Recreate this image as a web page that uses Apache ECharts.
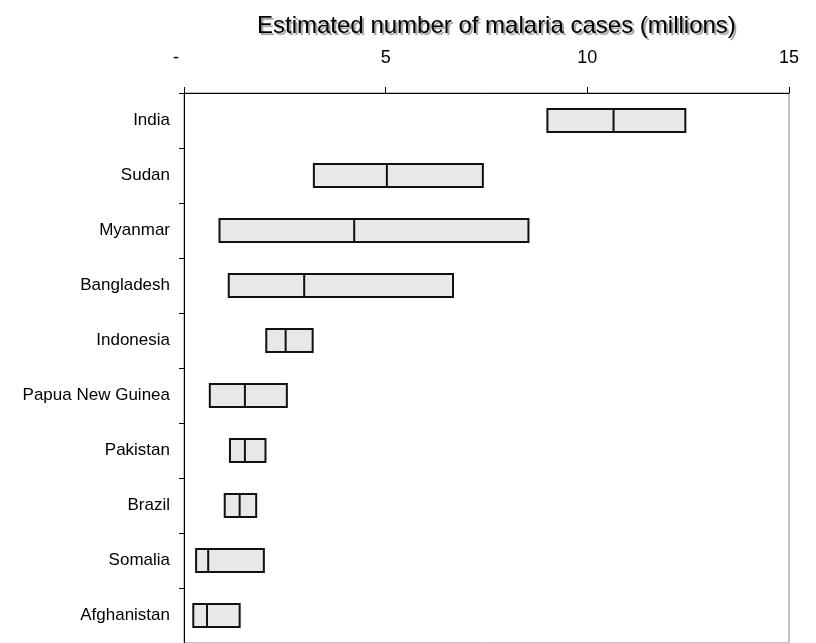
<!DOCTYPE html>
<html>
<head>
<meta charset="utf-8">
<style>
  html, body { margin: 0; padding: 0; background: #ffffff; }
  #chart { width: 816px; height: 643px; }
</style>
<script src="https://cdn.jsdelivr.net/npm/echarts@6/dist/echarts.min.js"></script>
</head>
<body>
<div id="chart"></div>
<script>
// ---- data ----
const countries = ['India', 'Sudan', 'Myanmar', 'Bangladesh', 'Indonesia',
  'Papua New Guinea', 'Pakistan', 'Brazil', 'Somalia', 'Afghanistan'];
const lowEstimate  = [9.01, 3.22, 0.88, 1.11, 2.04, 0.64, 1.14, 1.01, 0.30, 0.23];
const midEstimate  = [10.65, 5.03, 4.22, 2.98, 2.52, 1.51, 1.51, 1.38, 0.60, 0.57];
const highEstimate = [12.43, 7.41, 8.54, 6.67, 3.19, 2.55, 2.02, 1.79, 1.98, 1.38];
const xTicks = [0, 5, 10, 15];
const titleText = 'Estimated number of malaria cases (millions)';

// ---- font detection ----
function fontAvailable(name) {
  const c = document.createElement('canvas').getContext('2d');
  const s = 'Papua New Guinea 0123456789';
  c.font = '40px monospace';
  const a = c.measureText(s).width;
  c.font = '40px "' + name + '", monospace';
  const b = c.measureText(s).width;
  return Math.abs(a - b) > 0.5;
}
const narrow = fontAvailable('Liberation Sans Narrow');
const labelFont = narrow ? '"Liberation Sans Narrow", "Liberation Sans", Arial, sans-serif'
                         : '"Liberation Sans", Arial, sans-serif';
const labelSize = narrow ? 20 : 17;
const tickSize = narrow ? 20 : 18;

const boxData = countries.map((c, i) => [
  lowEstimate[i], lowEstimate[i], midEstimate[i], highEstimate[i], highEstimate[i]
]);

const chart = echarts.init(document.getElementById('chart'), null, { renderer: 'canvas' });
chart.setOption({
  animation: false,
  backgroundColor: '#ffffff',
  title: {
    text: titleText,
    left: 252,
    top: 9,
    textStyle: {
      fontFamily: '"Liberation Sans", Arial, sans-serif',
      fontSize: 24,
      fontWeight: 'normal',
      color: '#000000',
      textShadowColor: '#9a9a9a',
      textShadowOffsetX: 2,
      textShadowOffsetY: 2,
      textShadowBlur: 1
    }
  },
  grid: {
    left: 184,
    right: 27,
    top: 93,
    height: 553,
    show: true,
    borderColor: '#8a8a8a',
    borderWidth: 1,
    backgroundColor: 'transparent'
  },
  xAxis: {
    type: 'value',
    position: 'top',
    min: 0,
    max: 15,
    interval: 5,
    axisLine: { show: true, lineStyle: { color: '#000000', width: 1 } },
    axisTick: { show: true, length: 6, inside: false, lineStyle: { color: '#000000' } },
    splitLine: { show: false },
    axisLabel: {
      margin: 26,
      fontFamily: labelFont,
      fontSize: tickSize,
      color: '#000000',
      formatter: function (v) {
        return xTicks.indexOf(v) === 0 ? '{d|-}' : String(v);
      },
      rich: {
        d: { fontFamily: labelFont, fontSize: tickSize, color: '#000000', padding: [0, 16, 0, 0] }
      }
    }
  },
  yAxis: {
    type: 'category',
    data: countries,
    inverse: true,
    boundaryGap: true,
    axisLine: { show: true, lineStyle: { color: '#000000', width: 1 } },
    axisTick: { show: true, length: 5, inside: false, lineStyle: { color: '#000000' } },
    splitLine: { show: false },
    axisLabel: {
      margin: 14,
      fontFamily: labelFont,
      fontSize: labelSize,
      color: '#000000'
    }
  },
  series: [{
    type: 'boxplot',
    layout: 'horizontal',
    data: boxData,
    boxWidth: [23, 23],
    itemStyle: {
      color: '#e8e8e8',
      borderColor: '#111111',
      borderWidth: 2
    },
    emphasis: { disabled: true }
  }]
});
</script>
</body>
</html>
